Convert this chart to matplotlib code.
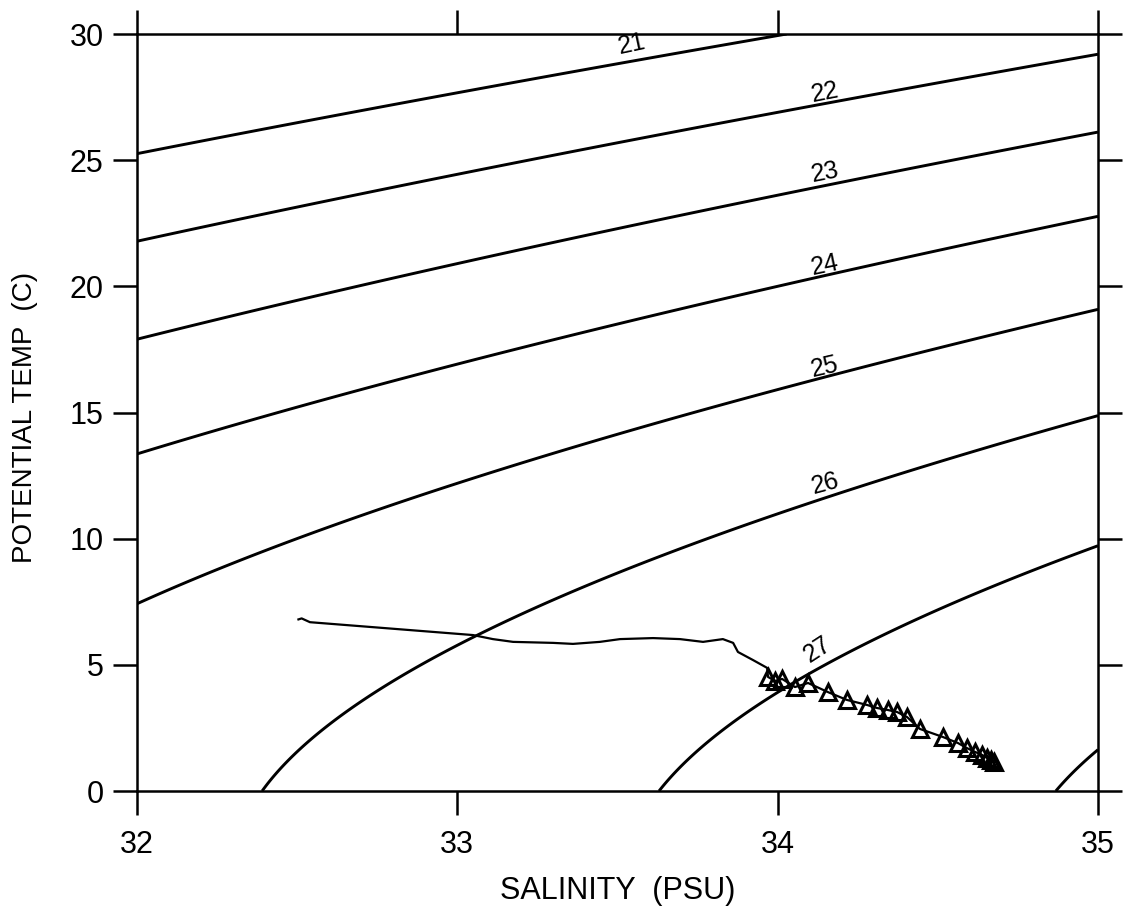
import numpy as np
import matplotlib
matplotlib.use('Agg')
import matplotlib.pyplot as plt

plt.rcParams['font.family'] = ['Liberation Sans', 'DejaVu Sans']

# Profil CTD (zasolenie, temperatura potencjalna)
sal_line = [32.504, 32.514, 32.540, 33.049, 33.111, 33.174, 33.299, 33.361,
            33.445, 33.508, 33.611, 33.695, 33.767, 33.829, 33.861, 33.876,
            33.923, 33.967]
temp_line = [6.80, 6.84, 6.69, 6.18, 6.02, 5.91, 5.87, 5.83,
             5.91, 6.02, 6.06, 6.02, 5.91, 6.02, 5.87, 5.51,
             5.19, 4.88]

# Punkty z trojkatami (glebsza czesc profilu)
sal_mark = [33.970, 33.992, 34.014, 34.054, 34.095, 34.157, 34.216, 34.279,
            34.310, 34.344, 34.373, 34.404, 34.444, 34.516, 34.563, 34.591,
            34.616, 34.638, 34.654, 34.666, 34.675]
temp_mark = [4.52, 4.36, 4.44, 4.12, 4.28, 3.92, 3.61, 3.41,
             3.29, 3.21, 3.13, 2.93, 2.46, 2.14, 1.90, 1.70,
             1.55, 1.43, 1.31, 1.23, 1.15]

# Izopikny sigma-theta
sigma_levels = [21, 22, 23, 24, 25, 26, 27, 28]
label_levels = [21, 22, 23, 24, 25, 26, 27]
label_sal = [33.545, 34.148, 34.148, 34.148, 34.148, 34.148, 34.126]
label_temp = [29.6, 27.7, 24.5, 20.85, 16.8, 12.2, 5.6]
label_rot = [12, 11, 11, 12, 13, 15, 33]


def sigma0(S, T):
    # rownanie stanu UNESCO (EOS-80) przy p = 0
    rho_w = (999.842594 + 6.793952e-2 * T - 9.095290e-3 * T**2
             + 1.001685e-4 * T**3 - 1.120083e-6 * T**4 + 6.536332e-9 * T**5)
    A = 0.824493 - 4.0899e-3 * T + 7.6438e-5 * T**2 - 8.2467e-7 * T**3 + 5.3875e-9 * T**4
    B = -5.72466e-3 + 1.0227e-4 * T - 1.6546e-6 * T**2
    C = 4.8314e-4
    return rho_w + A * S + B * S**1.5 + C * S**2 - 1000.0


def draw_chart():
    fig = plt.figure(figsize=(11.23, 9.11), dpi=100)
    ax = fig.add_axes([0.12199, 0.13172, 0.85574, 0.83095])

    S, T = np.meshgrid(np.linspace(32, 35, 301), np.linspace(0, 30, 301))
    ax.contour(S, T, sigma0(S, T), levels=sigma_levels, colors='black', linewidths=2.1)

    for lev, s, t, r in zip(label_levels, label_sal, label_temp, label_rot):
        ax.text(s, t, str(lev), fontsize=18, ha='center', va='center',
                rotation=r, rotation_mode='anchor')

    all_s = sal_line + sal_mark
    all_t = temp_line + temp_mark
    ax.plot(all_s, all_t, color='black', linewidth=1.6)
    ax.plot(sal_mark, temp_mark, linestyle='none', marker='^', markersize=12,
            markerfacecolor='none', markeredgecolor='black', markeredgewidth=2.2)

    ax.set_xlim(32, 35)
    ax.set_ylim(0, 30)
    ax.set_xticks([32, 33, 34, 35])
    ax.set_yticks([0, 5, 10, 15, 20, 25, 30])

    for sp in ax.spines.values():
        sp.set_linewidth(1.8)
    ax.tick_params(direction='out', length=17, width=1.8, labelsize=22,
                   top=True, right=True, pad=7)
    ax.tick_params(axis='x', pad=11)

    ax.set_xlabel('SALINITY  (PSU)', fontsize=22)
    ax.set_ylabel('POTENTIAL TEMP  (C)', fontsize=20)
    ax.xaxis.set_label_coords(0.5, -0.112)
    ax.yaxis.set_label_coords(-0.103, 0.494)

    fig.savefig('out.png', dpi=100)


if __name__ == "__main__":
    draw_chart()
